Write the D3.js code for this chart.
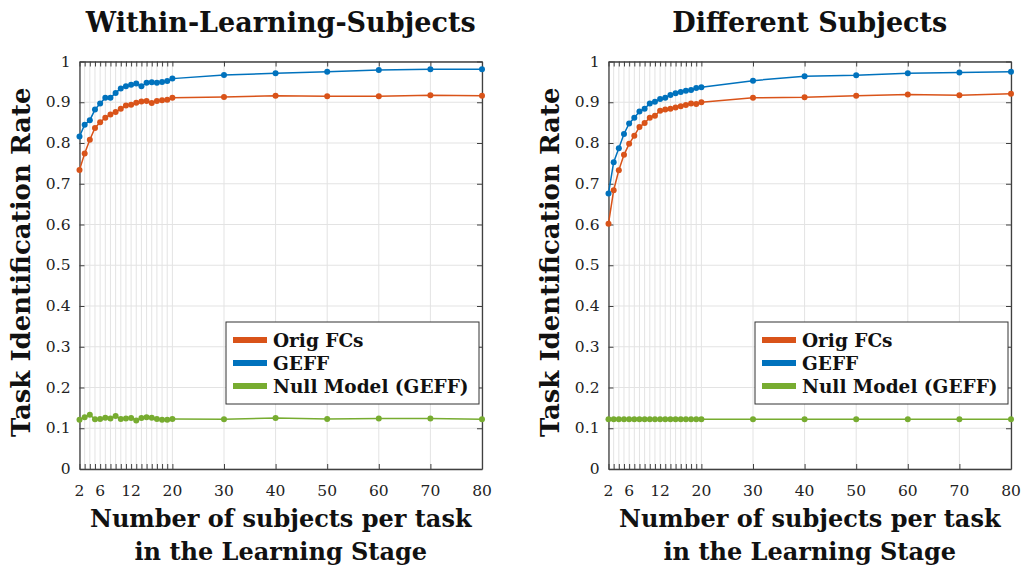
<!DOCTYPE html>
<html>
<head>
<meta charset="utf-8">
<script src="https://cdn.jsdelivr.net/npm/d3@7"></script>
<style>
  html, body { margin: 0; padding: 0; background: #fff; }
  svg { display: block; }
</style>
</head>
<body>
<svg id="chart" width="1021" height="569"></svg>
<script>
// ---- data ----
const xValues = [2,3,4,5,6,7,8,9,10,11,12,13,14,15,16,17,18,19,20,30,40,50,60,70,80];
const xTickLabels = [2,6,12,20,30,40,50,60,70,80];
const yTicks = [0,0.1,0.2,0.3,0.4,0.5,0.6,0.7,0.8,0.9,1];
const seriesNames = ["Orig FCs", "GEFF", "Null Model (GEFF)"];
const panelTitles = ["Within-Learning-Subjects", "Different Subjects"];

const withinOrig = [0.734,0.774,0.808,0.837,0.851,0.862,0.870,0.876,0.884,0.892,0.894,0.899,0.902,0.903,0.898,0.903,0.905,0.906,0.911,0.913,0.916,0.915,0.915,0.917,0.916];
const withinGEFF = [0.816,0.845,0.856,0.882,0.897,0.911,0.911,0.923,0.934,0.939,0.943,0.946,0.939,0.948,0.949,0.948,0.950,0.952,0.958,0.967,0.971,0.975,0.979,0.981,0.981];
const withinNull = [0.121,0.127,0.133,0.122,0.123,0.126,0.124,0.130,0.123,0.124,0.125,0.119,0.125,0.127,0.126,0.123,0.121,0.121,0.123,0.122,0.125,0.123,0.124,0.124,0.122];

const diffOrig = [0.602,0.684,0.733,0.771,0.798,0.818,0.839,0.849,0.862,0.867,0.879,0.882,0.884,0.887,0.890,0.893,0.897,0.896,0.900,0.911,0.912,0.916,0.919,0.917,0.921];
const diffGEFF = [0.676,0.753,0.787,0.822,0.848,0.862,0.877,0.884,0.897,0.901,0.908,0.911,0.918,0.922,0.925,0.928,0.930,0.935,0.937,0.953,0.964,0.966,0.971,0.973,0.975];
const diffNull = [0.122,0.122,0.122,0.122,0.122,0.122,0.122,0.122,0.122,0.122,0.122,0.122,0.122,0.122,0.122,0.122,0.122,0.122,0.122,0.122,0.122,0.122,0.122,0.122,0.122];

const colors = ["#D95319", "#0072BD", "#77AC30"];

const panels = [
  { title: panelTitles[0], series: [withinOrig, withinGEFF, withinNull], x0: 79.5, x1: 482 },
  { title: panelTitles[1], series: [diffOrig, diffGEFF, diffNull], x0: 608.5, x1: 1011 }
];

const svg = d3.select("#chart");
const yTop = 61.5, yBot = 469;
const serif = "'DejaVu Serif', 'Liberation Serif', serif";
const axisColor = "#404040";
const tickVals = xValues;

panels.forEach((p, pi) => {
  const x = d3.scaleLinear().domain([2, 80]).range([p.x0, p.x1]);
  const y = d3.scaleLinear().domain([0, 1]).range([yBot, yTop]);
  const g = svg.append("g");

  // grid
  g.append("g").selectAll("line.vg").data(tickVals).join("line")
    .attr("x1", d => x(d)).attr("x2", d => x(d))
    .attr("y1", yTop).attr("y2", yBot)
    .attr("stroke", "#e3e3e3").attr("stroke-width", 1);
  g.append("g").selectAll("line.hg").data(yTicks).join("line")
    .attr("x1", p.x0).attr("x2", p.x1)
    .attr("y1", d => y(d)).attr("y2", d => y(d))
    .attr("stroke", "#e3e3e3").attr("stroke-width", 1);

  // axes with inward ticks (MATLAB style)
  const tl = 5;
  const bottom = d3.axisBottom(x).tickValues(tickVals).tickSizeInner(-tl).tickSizeOuter(0).tickFormat("");
  const top = d3.axisTop(x).tickValues(tickVals).tickSizeInner(-tl).tickSizeOuter(0).tickFormat("");
  const left = d3.axisLeft(y).tickValues(yTicks).tickSizeInner(-tl).tickSizeOuter(0).tickFormat("");
  const right = d3.axisRight(y).tickValues(yTicks).tickSizeInner(-tl).tickSizeOuter(0).tickFormat("");
  [[bottom, `translate(0,${yBot})`], [top, `translate(0,${yTop})`], [left, `translate(${p.x0},0)`], [right, `translate(${p.x1},0)`]]
    .forEach(([ax, tr]) => {
      const a = g.append("g").attr("transform", tr).call(ax);
      a.selectAll("path").attr("stroke", axisColor).attr("stroke-width", 1.3);
      a.selectAll("line").attr("stroke", axisColor).attr("stroke-width", 1);
    });

  // tick labels
  g.append("g").selectAll("text").data(xTickLabels).join("text")
    .attr("x", d => x(d)).attr("y", yBot + 27)
    .attr("text-anchor", "middle")
    .attr("font-family", serif).attr("font-size", 15.5)
    .attr("fill", "#222")
    .text(d => d);
  g.append("g").selectAll("text").data(yTicks).join("text")
    .attr("x", p.x0 - 9).attr("y", d => y(d) + 5)
    .attr("text-anchor", "end")
    .attr("font-family", serif).attr("font-size", 15.5)
    .attr("fill", "#222")
    .text(d => d === 0 ? "0" : d === 1 ? "1" : d3.format(".1f")(d));

  // series
  p.series.forEach((vals, si) => {
    const pts = xValues.map((xv, i) => [xv, vals[i]]);
    g.append("path").datum(pts)
      .attr("fill", "none").attr("stroke", colors[si]).attr("stroke-width", 1.5)
      .attr("d", d3.line().x(d => x(d[0])).y(d => y(d[1])));
    g.append("g").selectAll("circle").data(pts).join("circle")
      .attr("cx", d => x(d[0])).attr("cy", d => y(d[1])).attr("r", 3)
      .attr("fill", colors[si]);
  });

  // legend
  const lx = p.x1 - 256, ly = 322, lw = 253, lh = 82;
  const lg = g.append("g");
  lg.append("rect").attr("x", lx).attr("y", ly).attr("width", lw).attr("height", lh)
    .attr("fill", "#fff").attr("stroke", "#333").attr("stroke-width", 1);
  seriesNames.forEach((nm, si) => {
    const ry = ly + 18 + si * 23;
    lg.append("line").attr("x1", lx + 7).attr("x2", lx + 41).attr("y1", ry).attr("y2", ry)
      .attr("stroke", colors[si]).attr("stroke-width", 6);
    lg.append("text").attr("x", lx + 47).attr("y", ry + 6.5)
      .attr("font-family", serif).attr("font-weight", "bold").attr("font-size", 18.5)
      .attr("fill", "#111").text(nm);
  });

  // titles & axis labels
  const cx = (p.x0 + p.x1) / 2;
  g.append("text").attr("x", cx).attr("y", 32).attr("text-anchor", "middle")
    .attr("font-family", serif).attr("font-weight", "bold").attr("font-size", 27)
    .attr("fill", "#111").text(p.title);
  g.append("text").attr("x", cx).attr("y", 527).attr("text-anchor", "middle")
    .attr("font-family", serif).attr("font-weight", "bold").attr("font-size", 24)
    .attr("fill", "#111").text("Number of subjects per task");
  g.append("text").attr("x", cx).attr("y", 560).attr("text-anchor", "middle")
    .attr("font-family", serif).attr("font-weight", "bold").attr("font-size", 24)
    .attr("fill", "#111").text("in the Learning Stage");
  g.append("text")
    .attr("transform", `translate(${p.x0 - 50},${(yTop + yBot) / 2 - 3}) rotate(-90)`)
    .attr("text-anchor", "middle")
    .attr("font-family", serif).attr("font-weight", "bold").attr("font-size", 26)
    .attr("fill", "#111").text("Task Identification Rate");
});
</script>
</body>
</html>
